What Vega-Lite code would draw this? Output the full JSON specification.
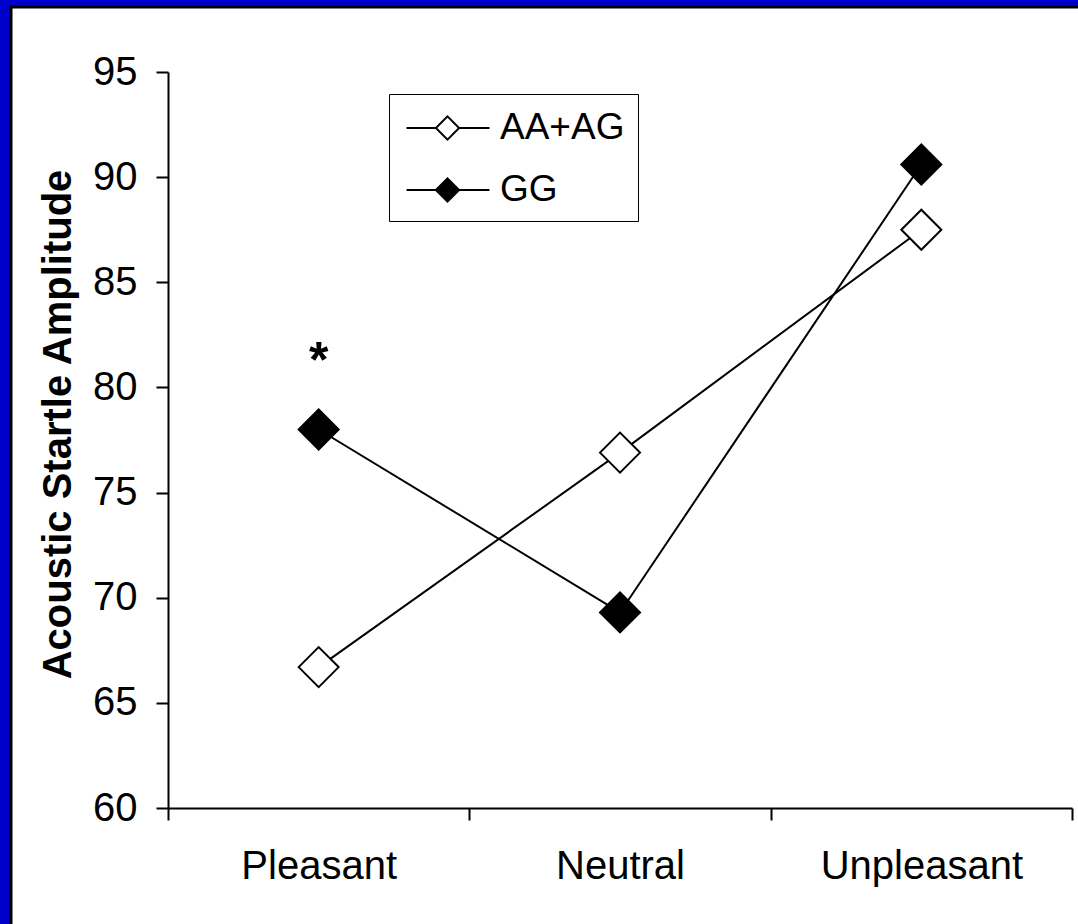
{
  "$schema": "https://vega.github.io/schema/vega-lite/v6.json",
  "autosize": "none",
  "width": 1067,
  "height": 917,
  "padding": {"left": 11, "top": 7, "right": 0, "bottom": 0},
  "background": "#0000CC",
  "config": {
    "font": "Liberation Sans",
    "view": {"fill": "white", "stroke": "black", "strokeWidth": 3, "strokeDash": [1067, 1984, 917]}
  },
  "data": {
    "values": [
      {"cond": "Pleasant", "group": "AA+AG", "amp": 66.7},
      {"cond": "Neutral", "group": "AA+AG", "amp": 76.9},
      {"cond": "Unpleasant", "group": "AA+AG", "amp": 87.5},
      {"cond": "Pleasant", "group": "GG", "amp": 78.0},
      {"cond": "Neutral", "group": "GG", "amp": 69.3},
      {"cond": "Unpleasant", "group": "GG", "amp": 90.6}
    ]
  },
  "encoding": {
    "x": {
      "field": "cond", "type": "nominal",
      "scale": {"domain": ["Pleasant", "Neutral", "Unpleasant"], "range": [157, 1061], "paddingInner": 0, "paddingOuter": 0},
      "axis": {
        "title": null, "offset": -116, "labelAngle": 0, "labelFontSize": 40, "labelColor": "black", "labelLimit": 500,
        "labelPadding": 26, "tickBand": "extent", "tickSize": 12, "tickColor": "black", "tickWidth": 2,
        "domainColor": "black", "domainWidth": 2, "grid": false
      }
    },
    "y": {
      "field": "amp", "type": "quantitative",
      "scale": {"domain": [60, 95], "range": [801, 65], "nice": false, "zero": false},
      "axis": {
        "title": "Acoustic Startle Amplitude", "titleFontSize": 40, "titleFontWeight": "bold", "titleColor": "black",
        "titlePadding": 14, "titleY": 417,
        "offset": -157, "values": [60, 65, 70, 75, 80, 85, 90, 95], "labelFontSize": 40, "labelColor": "black",
        "labelPadding": 19, "tickSize": 12, "tickColor": "black", "tickWidth": 2,
        "domainColor": "black", "domainWidth": 2, "grid": false
      }
    }
  },
  "layer": [
    {
      "mark": {"type": "line", "color": "black", "strokeWidth": 2},
      "encoding": {"detail": {"field": "group"}, "order": {"value": null}}
    },
    {
      "mark": {"type": "point", "shape": "diamond", "size": 1600, "filled": true, "stroke": "black", "strokeWidth": 2, "opacity": 1},
      "encoding": {
        "fill": {
          "field": "group", "type": "nominal",
          "scale": {"domain": ["AA+AG", "GG"], "range": ["white", "black"]},
          "legend": {
            "title": null, "orient": "none", "legendX": 378, "legendY": 87,
            "labelFontSize": 37, "labelColor": "black", "labelOffset": 56, "padding": 13, "rowPadding": 23,
            "symbolSize": 1600,
            "symbolType": "M-0.825,0L0.645,0M1.805,0L3.325,0M1.225,-0.58L1.805,0L1.225,0.58L0.645,0Z",
            "symbolStrokeColor": "black", "symbolStrokeWidth": 2,
            "strokeColor": "black", "fillColor": "white",
            "encode": {
              "legend": {"update": {"strokeWidth": {"value": 2}}},
              "symbols": {"update": {"stroke": {"value": "black"}, "strokeWidth": {"value": 2}, "opacity": {"value": 1}}}
            }
          }
        }
      }
    },
    {
      "data": {"values": [{"cond": "Pleasant", "amp": 80.5, "note": "*"}]},
      "mark": {"type": "text", "fontSize": 50, "fontWeight": "bold", "baseline": "alphabetic", "color": "black"},
      "encoding": {"text": {"field": "note"}}
    }
  ]
}
